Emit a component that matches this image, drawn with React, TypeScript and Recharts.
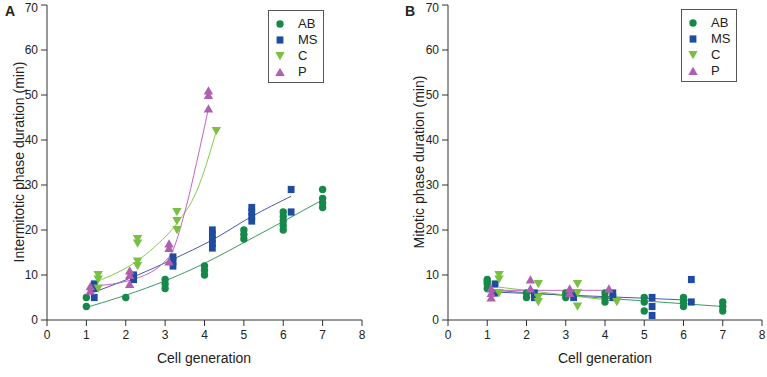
import { ComposedChart, Scatter, Line, XAxis, YAxis } from 'recharts'

const xTicks = [0, 1, 2, 3, 4, 5, 6, 7, 8]
const yTicks = [0, 10, 20, 30, 40, 50, 60, 70]
const seriesNames = ['AB', 'MS', 'C', 'P']

// panel A: intermitotic phase duration, [generation, minutes]
const abInter = [[1, 3], [1, 5], [2, 5], [3, 7], [3, 8], [3, 9], [4, 10], [4, 11], [4, 12], [5, 18], [5, 19], [5, 20], [6, 20], [6, 21], [6, 22], [6, 23], [6, 24], [7, 25], [7, 26], [7, 27], [7, 29]]
const msInter = [[1.2, 5], [1.2, 7], [1.2, 8], [2.2, 9], [2.2, 9.5], [2.2, 10], [3.2, 12], [3.2, 13], [3.2, 14], [4.2, 16], [4.2, 17], [4.2, 18], [4.2, 19], [4.2, 20], [5.2, 22], [5.2, 23], [5.2, 24], [5.2, 25], [6.2, 24], [6.2, 29]]
const cInter = [[1.3, 7], [1.3, 9], [1.3, 10], [2.3, 12], [2.3, 13], [2.3, 17], [2.3, 18], [3.3, 20], [3.3, 22], [3.3, 24], [4.3, 42]]
const pInter = [[1.1, 6.5], [1.1, 7.5], [2.1, 8], [2.1, 10], [2.1, 11], [3.1, 13], [3.1, 16], [3.1, 17], [4.1, 47], [4.1, 50], [4.1, 51]]

// fitted curves
const abInterFit = [[1, 2.8], [2, 5.5], [3, 8.7], [4, 12.6], [5, 17.2], [6, 21.9], [7, 26.7]]
const msInterFit = [[1.2, 6.2], [2.2, 9.6], [3.2, 13.5], [4.2, 17.8], [5.2, 23], [6.2, 27.5]]
const cInterFit = [[1.25, 8.5], [2.3, 13.2], [2.7, 16], [3.3, 21.5], [3.8, 28.6], [4.3, 42]]
const pInterFit = [[1.1, 7.5], [2.1, 8.8], [3.1, 14], [3.5, 24], [3.8, 35], [4.1, 47]]

// panel B: mitotic phase duration
const abMito = [[1, 7], [1, 8], [1, 8.5], [1, 9], [2, 5], [2, 6], [3, 5], [3, 6], [4, 4], [4, 5], [4, 6], [5, 2], [5, 4], [5, 5], [6, 3], [6, 4], [6, 5], [7, 2], [7, 3], [7, 4]]
const msMito = [[1.2, 6], [1.2, 8], [2.2, 5], [2.2, 6], [3.2, 5], [3.2, 6], [4.2, 5], [4.2, 6], [5.2, 1], [5.2, 3], [5.2, 5], [6.2, 4], [6.2, 9]]
const cMito = [[1.3, 6], [1.3, 9], [1.3, 10], [2.3, 4], [2.3, 5], [2.3, 8], [3.3, 3], [3.3, 6], [3.3, 8], [4.3, 4]]
const pMito = [[1.1, 5], [1.1, 6], [1.1, 7], [2.1, 7], [2.1, 9], [3.1, 6], [3.1, 7], [4.1, 7]]

const abMitoFit = [[1, 6.7], [7, 3]]
const msMitoFit = [[1.2, 6.2], [6.2, 4.4]]
const cMitoFit = [[1.3, 7.3], [4.3, 4.2]]
const pMitoFit = [[1.1, 6.6], [4.1, 6.6]]

const colors: Record<string, string> = { AB: '#16884a', MS: '#1f4c9e', C: '#79c043', P: '#b05eb0' }
const lineColors: Record<string, string> = { AB: '#3c9a62', MS: '#4a58b0', C: '#86c850', P: '#c064c0' }

const toPts = (arr: number[][]) => arr.map(([x, y]) => ({ x, y }))

function marker(name: string) {
  const fill = colors[name]
  return (p: any) => {
    const { cx, cy } = p
    if (name === 'AB') return <circle cx={cx} cy={cy} r={3.7} fill={fill} />
    if (name === 'MS') return <rect x={cx - 3.4} y={cy - 3.6} width={6.8} height={7.2} fill={fill} />
    if (name === 'C')
      return <polygon points={`${cx - 4.7},${cy - 3.9} ${cx + 4.7},${cy - 3.9} ${cx},${cy + 4.3}`} fill={fill} />
    return <polygon points={`${cx - 4.7},${cy + 3.9} ${cx + 4.7},${cy + 3.9} ${cx},${cy - 4.3}`} fill={fill} />
  }
}

function LegendBox({ left, top }: { left: number; top: number }) {
  return (
    <div style={{ position: 'absolute', left, top, width: 54, height: 71, border: '1px solid #555', background: '#fff' }}>
      {seriesNames.map((n, i) => (
        <div key={n} style={{ position: 'absolute', left: 0, top: 5 + i * 16, height: 16, width: 54 }}>
          <svg width={20} height={16} style={{ position: 'absolute', left: 1, top: 0 }}>
            {marker(n)({ cx: 10, cy: 8 })}
          </svg>
          <span style={{ position: 'absolute', left: 29, top: 0, lineHeight: '16px', fontSize: 13, color: '#222' }}>{n}</span>
        </div>
      ))}
    </div>
  )
}

interface PanelProps {
  left: number
  width: number
  marginLeft: number
  marginRight: number
  points: number[][][]
  fits: number[][][]
  curved: boolean
}

function Panel({ left, width, marginLeft, marginRight, points, fits, curved }: PanelProps) {
  return (
    <div style={{ position: 'absolute', left, top: 0 }}>
      <ComposedChart width={width} height={377} margin={{ top: 5, right: marginRight, left: marginLeft, bottom: 12 }}>
        <XAxis
          type="number"
          dataKey="x"
          domain={[0, 8]}
          ticks={xTicks}
          height={45}
          axisLine={{ stroke: '#333' }}
          tickLine={{ stroke: '#333' }}
          tickSize={6}
          tickMargin={4}
          tick={{ fontSize: 12, fill: '#222' }}
        />
        <YAxis
          type="number"
          dataKey="y"
          domain={[0, 70]}
          ticks={yTicks}
          width={40}
          axisLine={{ stroke: '#333' }}
          tickLine={{ stroke: '#333' }}
          tickSize={6}
          tickMargin={3}
          tick={{ fontSize: 12, fill: '#222' }}
        />
        {seriesNames.map((n, i) => (
          <Line
            key={'fit' + n}
            data={toPts(fits[i])}
            dataKey="y"
            type={curved ? 'monotone' : 'linear'}
            stroke={lineColors[n]}
            strokeWidth={1}
            dot={false}
            activeDot={false}
            isAnimationActive={false}
          />
        ))}
        {seriesNames.map((n, i) => (
          <Scatter key={n} name={n} data={toPts(points[i])} shape={marker(n)} isAnimationActive={false} />
        ))}
      </ComposedChart>
    </div>
  )
}

const titleStyle = { position: 'absolute' as const, fontSize: 14, color: '#222', whiteSpace: 'nowrap' as const }

export default function App() {
  return (
    <div style={{ position: 'absolute', left: 0, top: 0, width: 767, height: 377, background: '#fff', fontFamily: '"Liberation Sans", Arial, sans-serif' }}>
      <Panel left={0} width={400} marginLeft={7} marginRight={38} points={[abInter, msInter, cInter, pInter]} fits={[abInterFit, msInterFit, cInterFit, pInterFit]} curved />
      <Panel left={400} width={367} marginLeft={8} marginRight={5} points={[abMito, msMito, cMito, pMito]} fits={[abMitoFit, msMitoFit, cMitoFit, pMitoFit]} curved={false} />
      <LegendBox left={268} top={10} />
      <LegendBox left={681} top={9} />
      <div style={{ ...titleStyle, left: 5, top: 3, fontSize: 14, fontWeight: 'bold' }}>A</div>
      <div style={{ ...titleStyle, left: 405, top: 3, fontSize: 14, fontWeight: 'bold' }}>B</div>
      <div style={{ ...titleStyle, left: 204, top: 358, transform: 'translate(-50%, -50%)' }}>Cell generation</div>
      <div style={{ ...titleStyle, left: 605, top: 358, transform: 'translate(-50%, -50%)' }}>Cell generation</div>
      <div style={{ ...titleStyle, left: 19, top: 162, transform: 'translate(-50%, -50%) rotate(-90deg)' }}>Intermitotic phase duration (min)</div>
      <div style={{ ...titleStyle, left: 419, top: 162, transform: 'translate(-50%, -50%) rotate(-90deg)' }}>Mitotic phase duration (min)</div>
    </div>
  )
}
